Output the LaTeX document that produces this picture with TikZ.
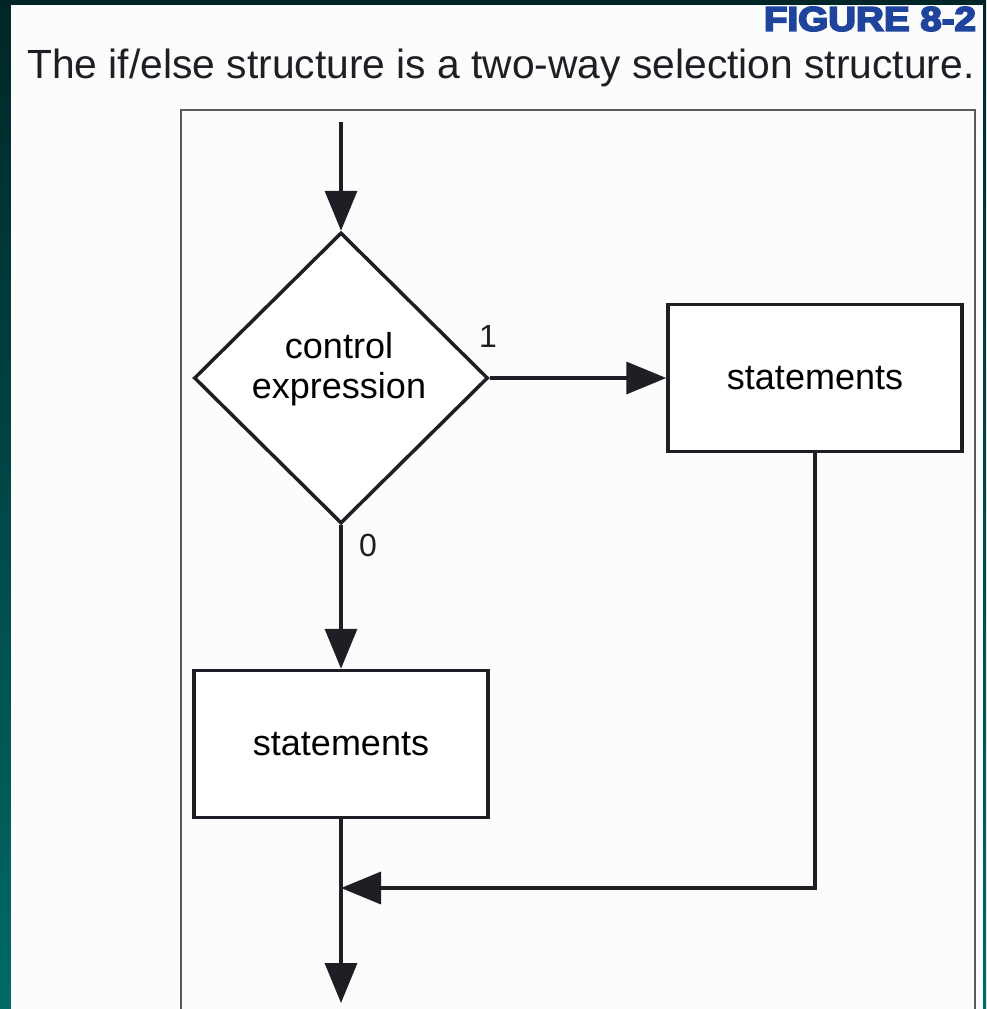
\documentclass[tikz,border=0pt]{standalone}
\usepackage{fontspec}
\setmainfont{Liberation Sans}
\newfontfamily\figfont{Liberation Sans Bold}[FakeBold=5]
\usetikzlibrary{shapes.geometric,arrows.meta}
\definecolor{bgdark}{RGB}{0,38,40}
\definecolor{bgteal}{RGB}{0,106,102}
\definecolor{paper}{RGB}{252,252,252}
\definecolor{framegray}{RGB}{90,90,95}
\definecolor{ink}{RGB}{30,30,36}
\definecolor{figblue}{RGB}{30,68,158}
\tikzset{
  flow/.style={line width=3.5pt, draw=ink},
  flowarrow/.style={flow, -{Triangle[length=40pt,width=32pt]}},
  box/.style={draw=ink, line width=3.5pt, fill=white, rectangle,
    minimum width=294pt, minimum height=147pt, inner sep=0pt,
    font=\fontsize{36}{40}\selectfont},
  decision/.style={draw=ink, line width=3.5pt, fill=white, diamond,
    minimum width=294pt, minimum height=291pt, inner sep=0pt,
    font=\fontsize{36}{40}\selectfont},
  branchlabel/.style={font=\fontsize{32}{36}\selectfont, text=ink, inner sep=0pt},
}
\begin{document}
\begin{tikzpicture}[x=1pt, y=-1pt]
\useasboundingbox (0,0) rectangle (986,1009);
% page background and paper
\shade[top color=bgdark, bottom color=bgteal] (0,0) rectangle (986,1009);
\fill[paper] (11,5) rectangle (983,1009);

% heading
\node[inner sep=0pt, text=figblue] (fig) at (870,19)
  {\resizebox{212pt}{24pt}{\figfont FIGURE 8-2}};
\node[inner sep=0pt, text=ink] (caption) at (501,68)
  {\resizebox{947pt}{!}{The if/else structure is a two-way selection structure.}};

% figure frame, open at the bottom
\draw[framegray, line width=2pt] (181,1012) |- (975,110) -- (975,1012);

% flowchart nodes
\coordinate (start) at (341,122);
\node[decision] (cond) at (341,378) {};
\node[align=center, inner sep=0pt, font=\fontsize{36}{40}\selectfont] (condtext)
  at (339,369) {control\\expression};
\node[box] (yes) at (815,378) {statements};
\node[box] (no) at (341,744) {statements};
\coordinate (join) at (341,888);
\coordinate (corner) at (815,888);
\coordinate (finish) at (341,1003);

% connectors
\draw[flowarrow] (start) -- (cond.north);
\draw[flowarrow] (cond.east) -- (yes.west);
\draw[flowarrow] (cond.south) -- (no.north);
\draw[flowarrow] (no.south) -- (finish);
\draw[flowarrow] (yes.south) -- (corner) -- (join);

% branch labels
\node[branchlabel] (one) at (488,336) {1};
\node[branchlabel] (zero) at (368,545) {0};
\end{tikzpicture}
\end{document}
